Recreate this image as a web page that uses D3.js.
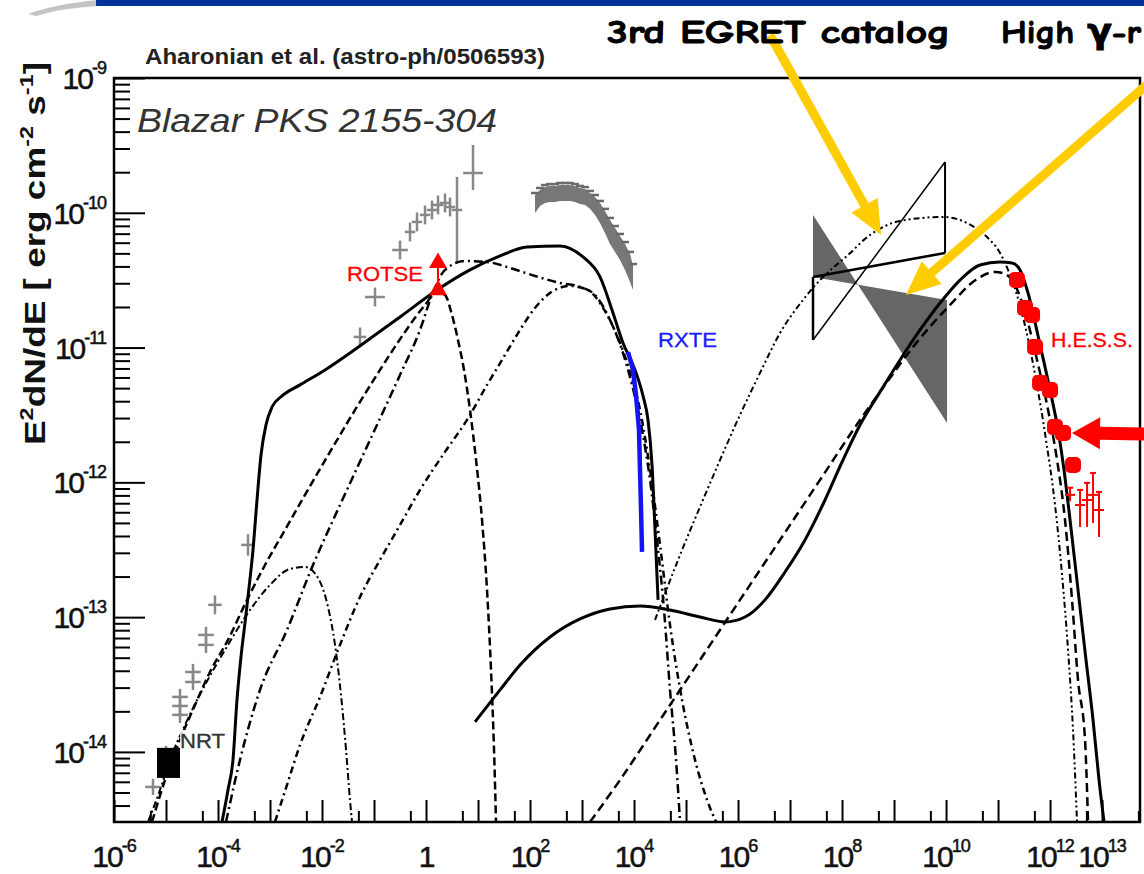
<!DOCTYPE html>
<html>
<head>
<meta charset="utf-8">
<title>PKS 2155-304 SED</title>
<script src="https://cdn.jsdelivr.net/npm/d3@7/dist/d3.min.js"></script>
<style>
  body { margin: 0; background: #fff; }
  svg { display: block; font-family: "Liberation Sans", Arial, sans-serif; }
</style>
</head>
<body>
<div id="chart"></div>
<script>
// every value below is log10: energy E [eV] and flux E^2 dN/dE [erg cm^-2 s^-1]

const xDomain = [-6, 13.73];
const yDomain = [-14.52, -9];
const xLabelExps = [-6, -4, -2, 0, 2, 4, 6, 8, 10, 12, 13];
const yLabelExps = [-14, -13, -12, -11, -10, -9];

// model curves
const syncTotal = [[-3.923,-14.519],[-3.808,-14.282],[-3.712,-14.059],[-3.635,-13.614],[-3.558,-13.295],
  [-3.481,-13.043],[-3.404,-12.783],[-3.327,-12.501],[-3.250,-12.131],[-3.173,-11.797],[-3.077,-11.574],
  [-2.962,-11.441],[-2.769,-11.359],[-2.423,-11.277],[-1.942,-11.166],[-1.462,-11.040],[-0.981,-10.907],
  [-0.500,-10.773],[0.212,-10.573],[0.846,-10.424],[1.423,-10.320],[1.942,-10.254],[2.577,-10.246],
  [3.019,-10.328],[3.346,-10.476],[3.596,-10.743],[3.788,-10.966],[3.981,-11.129],[4.173,-11.359],
  [4.269,-11.537],[4.346,-11.871],[4.404,-12.353],[4.462,-12.872]];

const radioHump = [[-5.346,-14.519],[-5.115,-14.282],[-4.923,-14.059],[-4.635,-13.800],[-4.250,-13.503],
  [-3.865,-13.243],[-3.385,-12.947],[-3.000,-12.761],[-2.615,-12.642],[-2.327,-12.628],[-2.077,-12.709],
  [-1.885,-12.924],[-1.750,-13.206],[-1.635,-13.577],[-1.538,-13.985],[-1.462,-14.356],[-1.423,-14.519]];

const opticalComp = [[-5.269,-14.519],[-5.019,-14.208],[-4.731,-13.911],[-4.442,-13.651],[-4.154,-13.407],
  [-3.808,-13.169],[-3.442,-12.872],[-3.096,-12.613],[-2.712,-12.353],[-2.327,-12.093],[-1.846,-11.774],
  [-1.365,-11.463],[-0.885,-11.166],[-0.404,-10.884],[-0.019,-10.684],[0.212,-10.588],[0.365,-10.610],
  [0.500,-10.758],[0.615,-10.944],[0.731,-11.166],[0.846,-11.463],[0.962,-11.834],[1.077,-12.279],
  [1.173,-12.798],[1.250,-13.392],[1.308,-13.985],[1.346,-14.519]];

const broadComp = [[-3.846,-14.519],[-3.577,-14.059],[-3.192,-13.540],[-2.673,-13.095],[-2.173,-12.613],
  [-1.654,-12.168],[-1.077,-11.686],[-0.500,-11.203],[-0.115,-10.869],[0.115,-10.610],[0.365,-10.424],
  [0.750,-10.358],[1.173,-10.365],[1.615,-10.409],[2.096,-10.469],[2.577,-10.521],[2.962,-10.550],
  [3.250,-10.610],[3.538,-10.795],[3.769,-11.018],[3.962,-11.277],[4.154,-11.611],[4.308,-11.982],
  [4.442,-12.427],[4.577,-12.947],[4.692,-13.540],[4.808,-14.059],[4.885,-14.519]];

const xrayComp = [[-2.904,-14.519],[-2.673,-14.245],[-2.423,-13.948],[-2.038,-13.592],[-1.654,-13.206],
  [-1.269,-12.850],[-0.885,-12.576],[-0.500,-12.316],[-0.115,-12.056],[0.365,-11.774],[0.788,-11.537],
  [1.173,-11.277],[1.519,-11.055],[1.808,-10.869],[2.096,-10.706],[2.442,-10.580],[2.769,-10.543],
  [3.115,-10.573],[3.404,-10.706],[3.692,-10.929],[3.923,-11.181],[4.115,-11.463],[4.308,-11.908],
  [4.500,-12.464],[4.692,-13.058],[4.923,-13.614],[5.173,-14.059],[5.404,-14.356],[5.577,-14.519]];

const icTotal = [[0.942,-13.777],[1.423,-13.540],[1.808,-13.355],[2.385,-13.147],[2.962,-13.013],
  [3.538,-12.939],[4.115,-12.917],[4.692,-12.947],[5.269,-12.999],[5.750,-13.036],[6.135,-12.999],
  [6.519,-12.872],[6.904,-12.665],[7.288,-12.427],[7.673,-12.131],[8.000,-11.849],[8.346,-11.574],
  [8.731,-11.329],[9.115,-11.092],[9.500,-10.869],[9.885,-10.669],[10.269,-10.499],[10.654,-10.387],
  [11.038,-10.365],[11.269,-10.372],[11.423,-10.424],[11.577,-10.595],[11.808,-10.981],[12.000,-11.315],
  [12.154,-11.611],[12.269,-11.908],[12.385,-12.279],[12.538,-12.798],[12.692,-13.318],[12.827,-13.763],
  [12.942,-14.208],[13.038,-14.519]];

const icComp = [[3.154,-14.519],[3.731,-14.208],[4.500,-13.763],[5.269,-13.318],[6.038,-12.872],
  [6.808,-12.427],[7.577,-11.982],[8.346,-11.537],[8.827,-11.277],[9.365,-10.996],[10.077,-10.684],
  [10.596,-10.491],[10.942,-10.439],[11.135,-10.454],[11.327,-10.536],[11.519,-10.736],[11.750,-11.092],
  [11.962,-11.463],[12.135,-11.834],[12.288,-12.279],[12.423,-12.872],[12.538,-13.466],[12.673,-13.911],
  [12.731,-14.519]];

const egretModel = [[4.404,-13.021],[4.885,-12.539],[5.269,-12.182],[5.654,-11.834],[6.038,-11.500],
  [6.423,-11.188],[6.808,-10.892],[7.250,-10.647],[7.635,-10.476],[8.096,-10.320],[8.538,-10.165],
  [9.115,-10.061],[9.942,-10.031],[10.404,-10.076],[10.788,-10.180],[11.038,-10.298],[11.192,-10.424],
  [11.346,-10.588],[11.538,-10.869],[11.731,-11.240],[11.923,-11.686],[12.096,-12.168],[12.231,-12.687],
  [12.346,-13.243],[12.442,-13.837],[12.519,-14.519]];

// data: [logE, logF, half width in E, error down, error up]
const grayData = [
  [-5.250,-14.260,0.15,0.06,0.06],[-5.000,-14.015,0.15,0.06,0.06],[-4.731,-13.592,0.15,0.06,0.06],
  [-4.731,-13.659,0.15,0.06,0.06],[-4.731,-13.725,0.15,0.06,0.06],[-4.481,-13.407,0.15,0.06,0.06],
  [-4.481,-13.481,0.15,0.06,0.06],[-4.231,-13.132,0.15,0.06,0.06],[-4.231,-13.206,0.15,0.06,0.06],
  [-4.058,-12.909,0.13,0.07,0.07],[-3.423,-12.464,0.13,0.08,0.08],[-1.269,-10.921,0.12,0.07,0.07],
  [-0.981,-10.625,0.19,0.07,0.07],[-0.500,-10.276,0.15,0.07,0.07],[-0.308,-10.142,0.10,0.07,0.07],
  [-0.173,-10.068,0.10,0.07,0.07],[-0.019,-10.016,0.10,0.07,0.07],[0.115,-9.979,0.10,0.07,0.07],
  [0.231,-9.942,0.10,0.07,0.07],[0.365,-9.927,0.10,0.07,0.07],[0.462,-9.957,0.10,0.07,0.07],
  [0.596,-9.979,0.10,0.386,0.245],[0.904,-9.705,0.19,0.126,0.208]];

// X-ray spectrum: [logE, logF, half band]
const xrayBand = [[2.096,-9.935,0.067],[2.192,-9.890,0.059],[2.288,-9.868,0.059],[2.385,-9.861,0.059],
  [2.481,-9.861,0.059],[2.577,-9.853,0.059],[2.673,-9.853,0.059],[2.769,-9.853,0.059],[2.865,-9.861,0.059],
  [2.962,-9.875,0.059],[3.058,-9.883,0.059],[3.154,-9.912,0.059],[3.250,-9.950,0.067],[3.346,-10.001,0.074],
  [3.442,-10.068,0.082],[3.538,-10.142,0.089],[3.635,-10.202,0.089],[3.731,-10.261,0.089],
  [3.827,-10.328,0.096],[3.923,-10.409,0.104],[3.981,-10.484,0.089]];

const rxte = [[3.885,-11.033],[3.981,-11.166],[4.038,-11.352],[4.096,-11.611],[4.115,-11.908],
  [4.135,-12.205],[4.154,-12.516]];

const rotse = [[0.231,-10.372],[0.231,-10.573]];
const nrtE = [-5.173, -4.731];
const nrtF = [-14.193, -13.970];

const hess = [[11.365,-10.499],[11.519,-10.706],[11.654,-10.758],[11.712,-10.996],[11.808,-11.263],
  [12.000,-11.315],[12.096,-11.589],[12.250,-11.634],[12.442,-11.871]];
// [logE, logF, low, high]
const hessTail = [[12.385,-12.093,-12.14,-12.04],[12.577,-12.168,-12.331,-12.056],
  [12.712,-12.131,-12.331,-12.004],[12.827,-12.093,-12.301,-11.930],[12.942,-12.205,-12.405,-12.071]];

// butterflies: energy edges and the two power-law lines
const egretE = [7.442, 9.981];
const egretSteep = [-10.944, -9.623];
const egretFlat = [-10.476, -10.298];
const highE = [7.442, 10.019];
const highSteep = [-10.016, -11.559];
const highFlat = [-10.476, -10.647];

// annotation arrows [tail, tip]
const egretArrow = [[6.615, -8.681], [8.750, -10.165]];
const highArrow = [[13.923, -9.030], [9.231, -10.610]];
const hessArrow = [[13.923, -11.641], [12.423, -11.634]];


const width = 1144, height = 874;
const plot = {left: 114, right: 1140, top: 78, bottom: 822};

const svg = d3.select("#chart").append("svg")
    .attr("width", width)
    .attr("height", height);

svg.append("rect").attr("width", width).attr("height", height).attr("fill", "#fff");

// header strip
svg.append("path")
    .attr("d", "M28,14 Q55,4 98,0 L98,6 Q62,8 36,16 Z")
    .attr("fill", "#c4c4c4");
svg.append("rect")
    .attr("x", 96).attr("y", 0)
    .attr("width", width - 96).attr("height", 6)
    .attr("fill", "#003399");

// scales
const x = d3.scaleLog().domain(xDomain.map(v => 10 ** v)).range([plot.left, plot.right]);
const y = d3.scaleLog().domain(yDomain.map(v => 10 ** v)).range([plot.bottom, plot.top]);
const px = v => x(10 ** v);
const py = v => y(10 ** v);

svg.append("defs").append("clipPath").attr("id", "clip")
    .append("rect")
    .attr("x", plot.left).attr("y", plot.top)
    .attr("width", plot.right - plot.left).attr("height", plot.bottom - plot.top);

const g = svg.append("g").attr("clip-path", "url(#clip)");

// gamma-ray butterflies
g.append("path")
    .attr("d", "M" + [[highE[0], highSteep[0]], [highE[1], highSteep[1]], [highE[1], highFlat[1]], [highE[0], highFlat[0]]]
        .map(d => px(d[0]) + "," + py(d[1])).join("L") + "Z")
    .attr("fill", "#666");

const eg = g.append("g").attr("stroke", "#000").attr("fill", "none");
eg.append("line").attr("x1", px(egretE[0])).attr("y1", py(egretSteep[0])).attr("x2", px(egretE[1])).attr("y2", py(egretSteep[1])).attr("stroke-width", 1.5);
eg.append("line").attr("x1", px(egretE[0])).attr("y1", py(egretFlat[0])).attr("x2", px(egretE[1])).attr("y2", py(egretFlat[1])).attr("stroke-width", 2.5);
eg.append("line").attr("x1", px(egretE[0])).attr("y1", py(egretSteep[0])).attr("x2", px(egretE[0])).attr("y2", py(egretFlat[0])).attr("stroke-width", 2.5);
eg.append("line").attr("x1", px(egretE[1])).attr("y1", py(egretSteep[1])).attr("x2", px(egretE[1])).attr("y2", py(egretFlat[1])).attr("stroke-width", 2);

// gray archival data
g.append("path")
    .datum(xrayBand)
    .attr("d", d3.area().x(d => px(d[0])).y0(d => py(d[1] - d[2])).y1(d => py(d[1] + d[2])))
    .attr("fill", "#777");

const cross = g.append("g").attr("stroke", "#888").attr("stroke-width", 2.5);
grayData.forEach(d => {
  cross.append("line").attr("x1", px(d[0] - d[2])).attr("x2", px(d[0] + d[2])).attr("y1", py(d[1])).attr("y2", py(d[1]));
  cross.append("line").attr("x1", px(d[0])).attr("x2", px(d[0])).attr("y1", py(d[1] - d[3])).attr("y2", py(d[1] + d[4]));
});
xrayBand.forEach(d => {
  cross.append("line").attr("stroke", "#6a6a6a")
      .attr("x1", px(d[0]) - 4).attr("x2", px(d[0]) + 4)
      .attr("y1", py(d[1] + d[2]) - 2).attr("y2", py(d[1] + d[2]) - 2);
});

// model curves
const line = d3.line().x(d => px(d[0])).y(d => py(d[1])).curve(d3.curveMonotoneX);
const curves = [
  {data: radioHump, dash: "7,3,2,3", w: 2},
  {data: opticalComp, dash: "8,4", w: 2.5},
  {data: broadComp, dash: "9,4,2,4", w: 2.5},
  {data: xrayComp, dash: "7,4,2,4", w: 2.5},
  {data: icComp, dash: "9,5", w: 2.5},
  {data: egretModel, dash: "6,3,2,3,2,3", w: 2},
  {data: syncTotal, dash: null, w: 3},
  {data: icTotal, dash: null, w: 3}
];
curves.forEach(c => {
  g.append("path")
      .datum(c.data)
      .attr("d", line)
      .attr("fill", "none")
      .attr("stroke", "#000")
      .attr("stroke-width", c.w)
      .attr("stroke-dasharray", c.dash);
});

// RXTE
g.append("path")
    .datum(rxte)
    .attr("d", d3.line().x(d => px(d[0])).y(d => py(d[1])))
    .attr("fill", "none")
    .attr("stroke", "#1414f0")
    .attr("stroke-width", 4.5);

// NRT
g.append("rect")
    .attr("x", px(nrtE[0])).attr("y", py(nrtF[1]))
    .attr("width", px(nrtE[1]) - px(nrtE[0]))
    .attr("height", py(nrtF[0]) - py(nrtF[1]))
    .attr("fill", "#000");

// ROTSE
g.append("line")
    .attr("x1", px(rotse[0][0])).attr("x2", px(rotse[1][0]))
    .attr("y1", py(rotse[0][1])).attr("y2", py(rotse[1][1]))
    .attr("stroke", "red").attr("stroke-width", 2);
g.selectAll(".rotse").data(rotse).join("path")
    .attr("transform", d => `translate(${px(d[0])},${py(d[1])})`)
    .attr("d", d3.symbol(d3.symbolTriangle).size(140))
    .attr("fill", "red");

// H.E.S.S.
const hg = g.append("g").attr("stroke", "red").attr("stroke-width", 2);
hessTail.forEach(d => {
  hg.append("line").attr("x1", px(d[0])).attr("x2", px(d[0])).attr("y1", py(d[2])).attr("y2", py(d[3]));
  hg.append("line").attr("x1", px(d[0]) - 5).attr("x2", px(d[0]) + 5).attr("y1", py(d[1])).attr("y2", py(d[1]));
  hg.append("line").attr("x1", px(d[0]) - 3).attr("x2", px(d[0]) + 3).attr("y1", py(d[3])).attr("y2", py(d[3]));
});
g.selectAll(".hess").data(hess).join("rect")
    .attr("x", d => px(d[0]) - 8).attr("y", d => py(d[1]) - 8)
    .attr("width", 16).attr("height", 16).attr("rx", 5)
    .attr("fill", "red");

// frame
svg.append("rect")
    .attr("x", plot.left).attr("y", plot.top)
    .attr("width", plot.right - plot.left).attr("height", plot.bottom - plot.top)
    .attr("fill", "none").attr("stroke", "#000").attr("stroke-width", 2.5);

// ticks (inside the frame)
const xMajor = d3.range(-6, 14).map(k => 10 ** k);
const xMinor = d3.range(-6, 14).map(k => 5 * 10 ** k).filter(v => v < x.domain()[1]);
const yMajor = d3.range(-14, -8).map(k => 10 ** k);
const yMinor = [];
for (let k = -15; k <= -10; k++) {
  for (let m = 2; m <= 9; m++) {
    const v = m * 10 ** k;
    if (v >= y.domain()[0] && v <= y.domain()[1]) yMinor.push(v);
  }
}

function tickAxis(axis, translate) {
  svg.append("g")
      .attr("transform", translate)
      .call(axis.tickFormat("").tickSizeOuter(0))
      .call(a => a.select(".domain").remove())
      .call(a => a.selectAll("text").remove())
      .call(a => a.selectAll("line").attr("stroke", "#000").attr("stroke-width", 2));
}
tickAxis(d3.axisTop(x).tickValues(xMajor).tickSize(22), `translate(0,${plot.bottom})`);
tickAxis(d3.axisTop(x).tickValues(xMinor).tickSize(11), `translate(0,${plot.bottom})`);
tickAxis(d3.axisRight(y).tickValues(yMajor).tickSize(31), `translate(${plot.left},0)`);
tickAxis(d3.axisRight(y).tickValues(yMinor).tickSize(16), `translate(${plot.left},0)`);

// power-of-ten labels
function powLabel(gx, gy, k, anchor) {
  const t = svg.append("text")
      .attr("x", gx).attr("y", gy)
      .attr("text-anchor", anchor)
      .attr("font-size", 30)
      .attr("letter-spacing", -2)
      .attr("fill", "#111")
      .attr("stroke", "#111").attr("stroke-width", 0.5);
  if (k === 0) {
    t.text("1");
  } else {
    t.append("tspan").text("10");
    t.append("tspan").attr("dy", -15).attr("font-size", 18).attr("letter-spacing", -1)
        .text(k < 0 ? "-" + (-k) : String(k));
  }
}
xLabelExps.forEach(k => powLabel(px(k), 867, k, "middle"));
yLabelExps.forEach(k => powLabel(106, py(k) + 11, k, "end"));

// axis title
const yt = svg.append("text")
    .attr("transform", "translate(45,445) rotate(-90)")
    .attr("font-size", 30)
    .attr("font-weight", "bold")
    .attr("fill", "#111")
    .attr("textLength", 383)
    .attr("lengthAdjust", "spacingAndGlyphs");
yt.append("tspan").text("E");
yt.append("tspan").attr("dy", -12).attr("font-size", 19).text("2");
yt.append("tspan").attr("dy", 12).text("dN/dE [ erg cm");
yt.append("tspan").attr("dy", -12).attr("font-size", 19).text("-2");
yt.append("tspan").attr("dy", 12).text(" s");
yt.append("tspan").attr("dy", -12).attr("font-size", 19).text("-1");
yt.append("tspan").attr("dy", 12).text("]");

// texts
svg.append("text")
    .attr("x", 145).attr("y", 64)
    .attr("font-size", 22).attr("font-weight", "bold").attr("fill", "#222")
    .attr("textLength", 400).attr("lengthAdjust", "spacingAndGlyphs")
    .text("Aharonian et al. (astro-ph/0506593)");

svg.append("text")
    .attr("x", 137).attr("y", 132)
    .attr("font-size", 33).attr("font-style", "italic").attr("fill", "#333")
    .attr("textLength", 360).attr("lengthAdjust", "spacingAndGlyphs")
    .text("Blazar PKS 2155-304");

function label(txt, lx, ly, len, color) {
  svg.append("text")
      .attr("x", lx).attr("y", ly)
      .attr("font-size", 20).attr("fill", color)
      .attr("stroke", color).attr("stroke-width", 0.3)
      .attr("textLength", len).attr("lengthAdjust", "spacingAndGlyphs")
      .text(txt);
}
label("ROTSE", 347, 281, 76, "red");
label("RXTE", 658, 347, 59, "#1a1aff");
label("H.E.S.S.", 1051, 347, 82, "red");
svg.append("rect").attr("x", 180).attr("y", 730).attr("width", 46).attr("height", 20).attr("fill", "#fff").attr("opacity", 0.85);
label("NRT", 180, 748, 45, "#333");

// arrows
function arrowPath(tail, tip, shaft, headW, headL) {
  const p0 = [px(tail[0]), py(tail[1])], p1 = [px(tip[0]), py(tip[1])];
  const dx = p1[0] - p0[0], dy = p1[1] - p0[1], L = Math.hypot(dx, dy);
  const ux = dx / L, uy = dy / L, nx = -uy, ny = ux;
  const bx = p1[0] - ux * headL, by = p1[1] - uy * headL;
  const pts = [
    [p0[0] + nx * shaft / 2, p0[1] + ny * shaft / 2],
    [bx + nx * shaft / 2, by + ny * shaft / 2],
    [bx + nx * headW / 2, by + ny * headW / 2],
    p1,
    [bx - nx * headW / 2, by - ny * headW / 2],
    [bx - nx * shaft / 2, by - ny * shaft / 2],
    [p0[0] - nx * shaft / 2, p0[1] - ny * shaft / 2]
  ];
  return "M" + pts.map(p => p.join(",")).join("L") + "Z";
}
svg.append("path").attr("d", arrowPath(egretArrow[0], egretArrow[1], 9, 30, 34)).attr("fill", "#ffcc00");
svg.append("path").attr("d", arrowPath(highArrow[0], highArrow[1], 9, 30, 34)).attr("fill", "#ffcc00");
svg.append("path").attr("d", arrowPath(hessArrow[0], hessArrow[1], 13, 32, 28)).attr("fill", "red");

const comic = "'Comic Sans MS', 'Comic Neue', 'DejaVu Sans', sans-serif";
svg.append("text")
    .attr("x", 607).attr("y", 43)
    .attr("font-family", comic).attr("font-size", 33).attr("font-weight", "bold")
    .attr("stroke", "#000").attr("stroke-width", 1)
    .attr("textLength", 343).attr("lengthAdjust", "spacingAndGlyphs")
    .text("3rd EGRET catalog");
svg.append("text")
    .attr("x", 1001).attr("y", 43)
    .attr("font-family", comic).attr("font-size", 33).attr("font-weight", "bold")
    .attr("stroke", "#000").attr("stroke-width", 1)
    .attr("textLength", 140).attr("lengthAdjust", "spacingAndGlyphs")
    .text("High γ-r");
</script>
</body>
</html>
